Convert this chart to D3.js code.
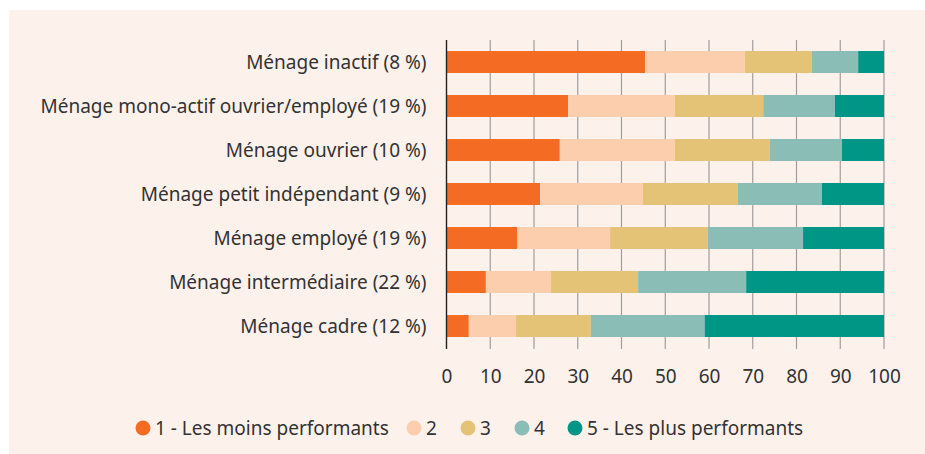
<!doctype html>
<html>
<head>
<meta charset="utf-8">
<title>Ménages par niveau de performance</title>
<script src="https://cdn.jsdelivr.net/npm/d3@7"></script>
<style>
  body { margin: 0; background: #fff; }
  svg { display: block; }
  text { font-family: "Noto Sans", sans-serif; fill: #333; }
</style>
</head>
<body>
<svg id="chart" width="925" height="454"></svg>
<script>
var categories = [
  "Ménage inactif (8 %)",
  "Ménage mono-actif ouvrier/employé (19 %)",
  "Ménage ouvrier (10 %)",
  "Ménage petit indépendant (9 %)",
  "Ménage employé (19 %)",
  "Ménage intermédiaire (22 %)",
  "Ménage cadre (12 %)"
];
var seriesNames = ["1 - Les moins performants", "2", "3", "4", "5 - Les plus performants"];
var s1 = [45.4, 27.8, 25.9, 21.4, 16.2, 9.0, 5.1];
var s2 = [22.8, 24.4, 26.3, 23.5, 21.2, 14.9, 10.8];
var s3 = [15.3, 20.2, 21.7, 21.7, 22.3, 19.9, 17.1];
var s4 = [10.6, 16.4, 16.5, 19.2, 21.8, 24.7, 26.0];
var s5 = [5.9, 11.2, 9.6, 14.2, 18.5, 31.5, 41.0];
var ticks = [0, 10, 20, 30, 40, 50, 60, 70, 80, 90, 100];
var colors = ["#f46c23", "#fccead", "#e4c276", "#89bdb6", "#009686"];

var svg = d3.select("#chart");

// fond du cadre
svg.append("rect")
  .attr("x", 9).attr("y", 10)
  .attr("width", 916).attr("height", 444)
  .attr("fill", "#fdf1ec");

var plotLeft = 446.5, plotRight = 884, plotTop = 40, plotBottom = 348;

var x = d3.scaleLinear().domain([0, 100]).range([plotLeft, plotRight]);
var y = d3.scaleBand().domain(categories).range([plotTop, plotBottom])
  .paddingInner(0.5).paddingOuter(0.25);
var color = d3.scaleOrdinal().domain(seriesNames).range(colors);

var table = categories.map(function(c, i) {
  var row = { cat: c };
  [s1, s2, s3, s4, s5].forEach(function(s, j) { row[seriesNames[j]] = s[i]; });
  return row;
});
var stacked = d3.stack().keys(seriesNames)(table);

// grille
svg.append("g")
  .selectAll("line")
  .data(ticks.slice(1))
  .enter().append("line")
    .attr("x1", function(d) { return x(d); })
    .attr("x2", function(d) { return x(d); })
    .attr("y1", plotTop).attr("y2", plotBottom + 1)
    .attr("stroke", "#a09e9c")
    .attr("stroke-width", 1.2);

// barres
svg.append("g")
  .selectAll("g")
  .data(stacked)
  .enter().append("g")
    .attr("fill", function(d) { return color(d.key); })
  .selectAll("rect")
  .data(function(d) { return d; })
  .enter().append("rect")
    .attr("x", function(d) { return x(d[0]); })
    .attr("width", function(d) { return x(d[1]) - x(d[0]); })
    .attr("y", function(d) { return y(d.data.cat); })
    .attr("height", y.bandwidth());

// axe vertical
svg.append("line")
  .attr("x1", plotLeft).attr("x2", plotLeft)
  .attr("y1", plotTop).attr("y2", plotBottom + 1)
  .attr("stroke", "#222").attr("stroke-width", 1.4);

// libellés des catégories
svg.append("g")
  .selectAll("text")
  .data(categories)
  .enter().append("text")
    .attr("x", plotLeft - 20)
    .attr("y", function(d) { return y(d) + y.bandwidth() / 2; })
    .attr("dy", "0.35em")
    .attr("text-anchor", "end")
    .style("font-size", "19px")
    .text(function(d) { return d; });

// axe x
var xAxis = svg.append("g")
  .attr("transform", "translate(0," + (plotBottom + 1) + ")")
  .call(d3.axisBottom(x).tickValues(ticks).tickSize(0).tickPadding(21));
xAxis.select(".domain").remove();
xAxis.selectAll("text")
  .style("font-size", "19px")
  .style("font-family", "'Noto Sans', sans-serif")
  .attr("fill", "#333");

// légende
var legendX = [143, 414, 468, 522, 575];
var legend = svg.append("g").attr("transform", "translate(0,428)");
var item = legend.selectAll("g")
  .data(seriesNames)
  .enter().append("g")
    .attr("transform", function(d, i) { return "translate(" + legendX[i] + ",0)"; });
item.append("circle")
  .attr("r", 7.5)
  .attr("fill", function(d) { return color(d); });
item.append("text")
  .attr("x", 12)
  .attr("dy", "0.35em")
  .style("font-size", "19px")
  .text(function(d) { return d; });
</script>
</body>
</html>
